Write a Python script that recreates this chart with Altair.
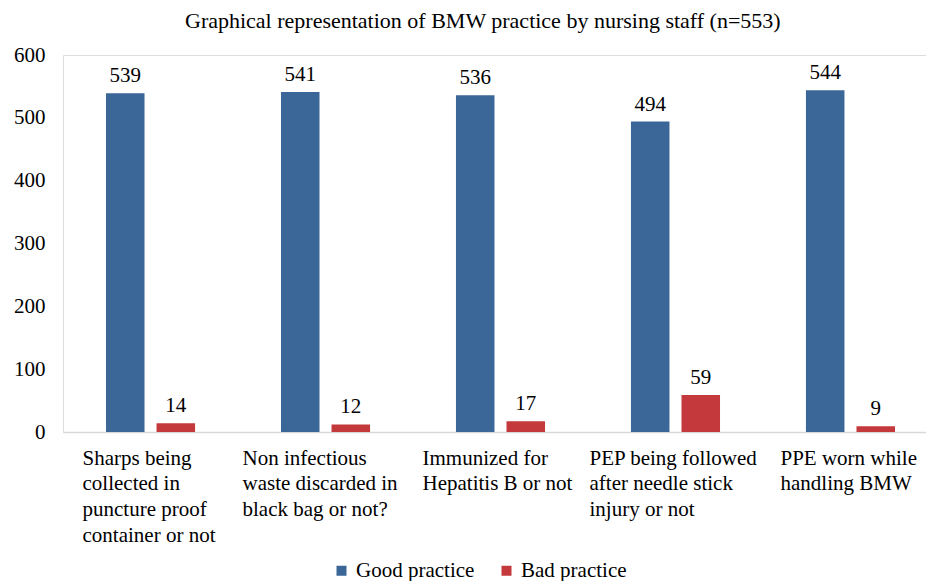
import altair as alt
import pandas as pd

categories = [
    "Sharps being\ncollected in\npuncture proof\ncontainer or not",
    "Non infectious\nwaste discarded in\nblack bag or not?",
    "Immunized for\nHepatitis B or not",
    "PEP being followed\nafter needle stick\ninjury or not",
    "PPE worn while\nhandling BMW",
]
series = ["Good practice", "Bad practice"]
good = [539, 541, 536, 494, 544]
bad = [14, 12, 17, 59, 9]
colors = ["#3B6698", "#C4393B"]

rows = []
for c, g, b in zip(categories, good, bad):
    rows.append({"category": c, "series": series[0], "value": g})
    rows.append({"category": c, "series": series[1], "value": b})
df = pd.DataFrame(rows)

FONT = "Liberation Serif"

# left-aligned lines, block centred under each group
label_offset = {
    "condition": [
        {"test": "indexof(datum.value, 'Sharps') >= 0", "value": -68},
        {"test": "indexof(datum.value, 'Non infectious') >= 0", "value": -83},
        {"test": "indexof(datum.value, 'Immunized') >= 0", "value": -78},
        {"test": "indexof(datum.value, 'PEP') >= 0", "value": -86},
    ],
    "value": -70,
}

x = alt.X(
    "category:N",
    sort=categories,
    title=None,
    scale=alt.Scale(range=[0, 875], paddingInner=0.491, paddingOuter=0.2457),
    axis=alt.Axis(
        labelExpr="split(datum.label, '\\n')",
        labelAngle=0,
        labelAlign="left",
        labelBaseline="top",
        labelOffset=label_offset,
        labelPadding=15,
        labelFontSize=21,
        labelLineHeight=25.7,
        labelFont=FONT,
        labelColor="#000000",
        labelLimit=300,
        ticks=False,
        domainColor="#D9D9D9",
        domainWidth=1.5,
        grid=False,
    ),
)
xoff = alt.XOffset("series:N", sort=series, scale=alt.Scale(paddingInner=0.238, paddingOuter=0))
y = alt.Y(
    "value:Q",
    title=None,
    scale=alt.Scale(domain=[0, 600]),
    axis=alt.Axis(
        values=[0, 100, 200, 300, 400, 500, 600],
        grid=False,
        domain=False,
        ticks=False,
        labelPadding=18,
        labelFontSize=21,
        labelFont=FONT,
        labelColor="#000000",
    ),
)

base = alt.Chart(df).encode(x=x, xOffset=xoff, y=y)

bars = base.mark_bar().encode(
    color=alt.Color(
        "series:N",
        sort=series,
        scale=alt.Scale(domain=series, range=colors),
        legend=alt.Legend(
            title=None,
            orient="none",
            legendX=268,
            legendY=505,
            direction="horizontal",
            symbolType="square",
            symbolSize=100,
            symbolStrokeWidth=0,
            symbolOffset=0,
            labelOffset=4,
            labelFontSize=21,
            labelFont=FONT,
            labelColor="#000000",
            columnPadding=21,
        ),
    )
)

labels = base.mark_text(
    baseline="bottom", dy=-7, fontSize=21, font=FONT, color="#000000"
).encode(text="value:Q")

chart = (
    (bars + labels)
    .properties(
        width=863,
        height=377,
        autosize=alt.AutoSizeParams(type="none"),
        title=alt.TitleParams(
            "Graphical representation  of BMW practice by nursing staff (n=553)",
            fontSize=22,
            font=FONT,
            fontWeight="normal",
            color="#000000",
            anchor="start",
            frame="group",
            dx=122,
            offset=11,
        ),
    )
    .configure_view(stroke=None)
    .configure(font=FONT, padding={"left": 55, "top": 47, "right": 0, "bottom": 165})
)

chart.save("out.html", embed_options={"renderer": "svg", "actions": False})
